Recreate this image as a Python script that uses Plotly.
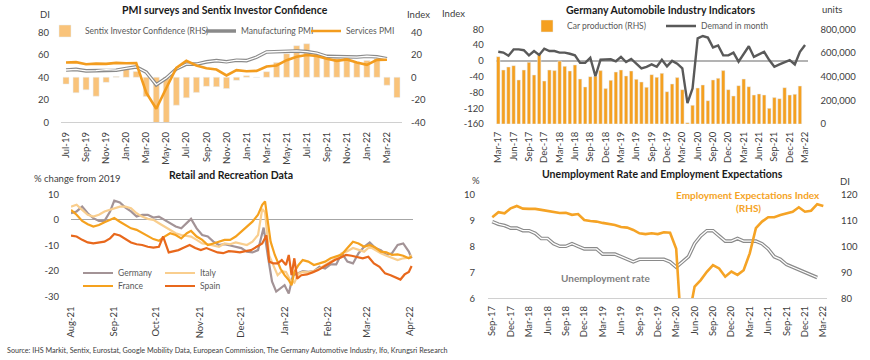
import pandas as pd
import plotly.graph_objects as go

W, H = 870, 360
FONT = "Lato"
TXT = "#404040"

# ---------------- Panel 1: PMI & Sentix ----------------
pmi_months = pd.date_range("2019-07-01", "2022-04-01", freq="MS").strftime("%b-%y").tolist()
sentix = [-6.0, -13.7, -11.1, -16.8, -4.5, 0.7, 7.6, 5.2, -17.1, -42.9, -41.8, -24.8, -18.2, -13.4,
          -8.0, -8.3, -10.0, -2.7, 1.3, -0.2, 5.0, 13.1, 21.0, 28.1, 29.8, 22.2, 19.6, 16.9, 18.3,
          13.5, 14.9, 16.6, -7.0, -18.0]
manufacturing_pmi = [46.5, 47.0, 45.7, 45.9, 46.9, 46.3, 47.9, 49.2, 44.5, 33.4, 39.4, 47.4, 51.8,
                     51.7, 53.7, 54.8, 53.8, 55.2, 54.8, 57.9, 62.5, 62.9, 63.1, 63.4, 62.8, 61.4,
                     58.6, 58.3, 58.4, 58.0, 58.7, 58.2, 56.5]
services_pmi = [53.2, 53.5, 51.6, 52.2, 51.9, 52.8, 52.5, 52.6, 26.4, 12.0, 30.5, 48.3, 54.7, 50.5,
                48.0, 46.9, 41.7, 46.4, 45.4, 45.7, 49.6, 50.5, 55.2, 58.3, 59.8, 59.0, 56.4, 54.6,
                55.9, 53.1, 51.1, 55.5, 55.6]

# ---------------- Panel 2: German autos ----------------
auto_months = pd.date_range("2017-03-01", "2022-03-01", freq="MS").strftime("%b-%y").tolist()
car_production = [569, 456, 482, 493, 372, 456, 521, 414, 589, 363, 456, 451, 532, 487, 448, 499,
                  380, 313, 400, 403, 451, 299, 369, 439, 456, 406, 448, 377, 355, 310, 417, 394,
                  428, 273, 338, 392, 290, 11, 158, 304, 330, 197, 372, 386, 451, 290, 237, 324,
                  380, 315, 245, 254, 245, 132, 223, 214, 307, 245, 251, 321]
car_production_units = [v * 1000 for v in car_production]
demand_in_month = [23, 21, 13, 29, 29, 27, 14, 25, 15, 31, 25, 25, 21, 21, 18, 14, -5, -5, 8, -39,
                   3, 3, 4, -1, 10, -3, 5, -7, -19, -15, -9, -15, 3, -14, 0, -7, -19, -107, -70,
                   57, 63, 59, 34, 39, 14, 14, 21, -2, 16, 37, 10, 17, 23, 2, -15, -9, -4, 2, -9,
                   23, 40]

# ---------------- Panel 3: Retail & recreation (days since 1 Aug 2021) ----------------
germany_days = [0, 4, 8, 12, 16, 20, 24, 28, 31, 35, 39, 43, 47, 51, 55, 59, 63, 67, 71, 75, 79, 83,
                86, 90, 94, 98, 102, 106, 110, 114, 118, 122, 126, 130, 134, 138, 141, 144, 147,
                150, 153, 156, 159, 162, 166, 170, 174, 178, 182, 186, 190, 194, 198, 202, 206,
                210, 214, 218, 222, 226, 230, 234, 238, 242, 244]
germany_vals = [2.6, 3.3, 5.2, 2.6, 0.7, -0.4, -0.4, 3.3, 7.5, 6.8, 4.8, 3.3, 1.3, 2, 2, 0.9, 1.3,
                0, -1.3, -2.6, -3.3, -1.3, 0.4, -3.3, -5.9, -6.5, -8.5, -9.8, -9.5, -10, -10.5,
                -11, -12.4, -12.7, -11.8, -3, -14, -24, -28, -26.8, -25.5, -28.8, -21.6, -21, -20,
                -20.3, -20, -18.3, -19, -17.4, -17.4, -13, -16.3, -17, -13, -10.5, -8.8, -11,
                -11.8, -13.7, -13, -9.8, -9.2, -12.4, -15]
italy_days = [0, 4, 8, 12, 16, 20, 24, 28, 31, 35, 39, 43, 47, 51, 55, 59, 63, 67, 71, 75, 79, 83,
              86, 90, 94, 98, 102, 106, 110, 114, 118, 122, 126, 130, 134, 137, 139, 142, 145, 148,
              151, 154, 157, 160, 163, 166, 170, 174, 178, 182, 186, 190, 194, 198, 202, 206, 210,
              214, 218, 222, 226, 230, 234, 238, 242, 244]
italy_vals = [5.2, 5.9, 3.9, 2, 1.3, 2, 3.3, 3.9, 4.3, 5.2, 5.2, 4.6, 2.6, 1.3, 0.4, 0, -1.3, -2.6,
              -3.9, -5.2, -5.9, -6.1, -6.5, -7.8, -9.2, -9.5, -10, -10.5, -9.2, -9.5, -8.8, -9.2,
              -9.8, -8.5, -5.9, 4.3, 3, -14, -18, -21.6, -20, -20.3, -23.5, -24.5, -21, -20.3,
              -20.5, -20, -19, -17.6, -16.3, -15, -13, -12.2, -11, -11.8, -12.4, -10.5, -11.8,
              -13, -14, -15, -15.7, -15, -14.8, -13.7]
france_days = [0, 4, 8, 12, 16, 20, 24, 28, 31, 35, 39, 43, 47, 51, 55, 59, 63, 67, 71, 75, 79, 83,
               86, 90, 94, 98, 102, 106, 110, 114, 118, 122, 126, 130, 134, 137, 139, 141, 143,
               146, 150, 153, 156, 158, 160, 163, 166, 170, 174, 178, 182, 186, 190, 194, 198,
               202, 206, 210, 214, 218, 222, 226, 230, 234, 238, 242, 244]
france_vals = [3.9, 2, -0.4, -1.7, -2.6, -2, -0.9, 0, 0.7, -0.7, -2, -3.3, -3.9, -5.2, -6.5, -7.5,
               -8.2, -6.5, -5.2, -5.9, -7.2, -5.2, -4.3, -6.5, -7.8, -9.8, -9.2, -8.5, -7.8, -7.8,
               -6.5, -4.6, -2.6, -0.7, 2, 5.9, 7.2, -1.3, -8.5, -13.7, -19, -21.6, -23.5, -25.5,
               -20.3, -17.6, -15.7, -16.3, -17.6, -17, -16.3, -15, -14.4, -13.5, -11, -8.5, -9.2,
               -10.5, -9.8, -10.8, -12.4, -12.7, -13.7, -13.5, -14, -15, -14.4]
spain_days = [0, 4, 8, 12, 16, 20, 24, 28, 31, 35, 39, 43, 47, 51, 55, 59, 63, 66, 70, 73, 77, 81,
              85, 89, 93, 97, 101, 105, 109, 113, 117, 121, 125, 129, 133, 137, 140, 142, 145, 148,
              151, 154, 156, 158, 160, 162, 165, 169, 173, 177, 181, 185, 189, 193, 197, 201, 205,
              209, 213, 217, 221, 225, 229, 233, 236, 239, 242, 244]
spain_vals = [-6.1, -6.5, -7.8, -8.8, -9.2, -8.8, -8.5, -7.2, -5.5, -6.1, -7.5, -8.8, -9.5, -9.8,
              -10.5, -10.8, -10.5, -6.5, -12.7, -12.2, -11.8, -10.8, -9.8, -11, -11.8, -11, -11.8,
              -12.7, -13, -12.2, -12.4, -12.7, -12.2, -11.8, -10.5, -9.2, -6, -16.3, -17, -17,
              -15.7, -17.6, -13.7, -21.6, -15, -22.9, -21.6, -21.3, -20.5, -19.6, -18.3, -17,
              -15.7, -14.8, -13.7, -14, -14.4, -15, -14.4, -17, -18.3, -20.9, -21.6, -22.6, -23.3,
              -21.3, -20.3, -18]
retail_start = pd.Timestamp("2021-08-01")
retail_ticks = pd.date_range("2021-08-01", "2022-04-01", freq="MS")
retail_ticktext = retail_ticks.strftime("%b-%y").tolist()

# ---------------- Panel 4: Unemployment & EEI ----------------
emp_months = pd.date_range("2017-09-01", "2022-03-01", freq="MS").strftime("%b-%y").tolist()
unemployment = [8.95, 8.85, 8.8, 8.7, 8.7, 8.6, 8.6, 8.5, 8.3, 8.3, 8.1, 8.0, 8.0, 8.1, 8.0, 7.9,
                7.9, 7.9, 7.7, 7.7, 7.7, 7.6, 7.5, 7.4, 7.5, 7.5, 7.5, 7.5, 7.5, 7.4, 7.2, 7.4,
                7.6, 8.1, 8.4, 8.6, 8.6, 8.4, 8.2, 8.2, 8.3, 8.2, 8.2, 8.2, 8.1, 7.9, 7.6, 7.5,
                7.3, 7.2, 7.1, 7.0, 6.9, 6.8]
eei = [111.2, 113.1, 112.7, 114.6, 115.5, 114.5, 114.4, 114.4, 114.0, 113.6, 113.1, 112.8, 112.9,
       112.1, 112.4, 110.1, 109.7, 109.5, 109.0, 108.5, 108.2, 107.4, 107.2, 106.3, 105.0, 104.7,
       105.0, 104.7, 105.4, 105.2, 99.0, 62.0, 72.0, 84.5, 87.0, 90.2, 92.8, 91.5, 88.3, 90.3,
       89.0, 90.8, 97.3, 107.0, 109.5, 111.2, 111.2, 112.0, 112.7, 113.3, 115.0, 113.3, 113.7,
       116.2, 115.5]

# colours
C_SENTIX = "#F9C37A"
C_SERV = "#F39C1E"
C_GRAY = "#8A8A8A"
C_CAR = "#F5A020"
C_DEMAND = "#595959"
C_GER = "#A39396"
C_ITA = "#F9CE8E"
C_FRA = "#F5A11E"
C_ESP = "#E8681C"
C_EEI = "#F5A325"


def px_x(p):
    return p / W


def px_y(p):
    return 1 - p / H


fig = go.Figure()

fig.add_trace(go.Bar(x=pmi_months, y=sentix, marker_color=C_SENTIX, width=0.6,
                     name="Sentix Investor Confidence (RHS)", xaxis="x", yaxis="y", legend="legend"))
fig.add_trace(go.Scatter(x=pmi_months[:len(manufacturing_pmi)], y=manufacturing_pmi, mode="lines",
                         line=dict(color=C_GRAY, width=3.6), name="Manufacturing PMI",
                         xaxis="x", yaxis="y2", legend="legend2"))
fig.add_trace(go.Scatter(x=pmi_months[:len(manufacturing_pmi)], y=manufacturing_pmi, mode="lines",
                         line=dict(color="white", width=1.3), showlegend=False, hoverinfo="skip",
                         xaxis="x", yaxis="y2"))
fig.add_trace(go.Scatter(x=pmi_months[:len(services_pmi)], y=services_pmi, mode="lines",
                         line=dict(color=C_SERV, width=2.6), name="Services PMI",
                         xaxis="x", yaxis="y2", legend="legend3"))

fig.add_trace(go.Bar(x=auto_months[:len(car_production_units)], y=car_production_units,
                     marker_color=C_CAR, width=0.68, name="Car production (RHS)",
                     xaxis="x2", yaxis="y3", legend="legend4"))
fig.add_trace(go.Scatter(x=auto_months, y=demand_in_month, mode="lines",
                         line=dict(color=C_DEMAND, width=2.4), name="Demand in month",
                         xaxis="x2", yaxis="y4", legend="legend5"))

for name, days, vals, col, lg in [("Germany", germany_days, germany_vals, C_GER, "legend6"),
                                  ("Italy", italy_days, italy_vals, C_ITA, "legend7"),
                                  ("France", france_days, france_vals, C_FRA, "legend8"),
                                  ("Spain", spain_days, spain_vals, C_ESP, "legend9")]:
    dates = retail_start + pd.to_timedelta(days, unit="D")
    fig.add_trace(go.Scatter(x=dates, y=vals, mode="lines", line=dict(color=col, width=2.2),
                             name=name, xaxis="x3", yaxis="y5", legend=lg))

fig.add_trace(go.Scatter(x=emp_months[:len(unemployment)], y=unemployment, mode="lines",
                         line=dict(color=C_GRAY, width=3.6), showlegend=False,
                         xaxis="x4", yaxis="y6"))
fig.add_trace(go.Scatter(x=emp_months[:len(unemployment)], y=unemployment, mode="lines",
                         line=dict(color="white", width=1.3), showlegend=False, hoverinfo="skip",
                         xaxis="x4", yaxis="y6"))
fig.add_trace(go.Scatter(x=emp_months, y=eei, mode="lines", line=dict(color=C_EEI, width=2.6),
                         showlegend=False, xaxis="x4", yaxis="y7"))

tickfont = dict(family=FONT, size=9.5, color=TXT)
hidden_tick = dict(ticks="outside", tickcolor="rgba(0,0,0,0)", showgrid=False, zeroline=False)


def num_axis(vals, fmt=lambda v: str(v), **kw):
    d = dict(tickvals=vals, ticktext=[fmt(v) for v in vals], tickfont=tickfont,
             automargin=False, **hidden_tick)
    d.update(kw)
    return d


def cat_axis(**kw):
    d = dict(tickangle=-90, tickfont=tickfont, ticks="outside", tickcolor="rgba(0,0,0,0)",
             showgrid=False, zeroline=False, automargin=False)
    d.update(kw)
    return d


layout = dict(
    width=W, height=H, margin=dict(l=0, r=0, t=0, b=0, autoexpand=False),
    paper_bgcolor="white", plot_bgcolor="rgba(0,0,0,0)",
    font=dict(family=FONT, color=TXT), bargap=0.3,
    xaxis=cat_axis(type="category", domain=[px_x(61), px_x(402)], anchor="y",
                   range=[-0.5, len(pmi_months) - 0.5], tickvals=pmi_months[::2],
                   ticktext=pmi_months[::2], ticklen=5,
                   showline=True, linecolor="#D0D0D0", linewidth=1),
    yaxis=num_axis([-40, -20, 0, 20, 40], domain=[px_y(122.3), px_y(32.3)], range=[-40, 40],
                   side="right", anchor="x", ticklen=6),
    yaxis2=num_axis([0, 20, 40, 60, 80], range=[0, 80], overlaying="y", side="left",
                    anchor="x", ticklen=9),
    xaxis2=cat_axis(type="category", domain=[px_x(495.7), px_x(807.6)], anchor="y3",
                    range=[-0.5, len(auto_months) - 0.5], tickvals=auto_months[::3],
                    ticktext=auto_months[::3], ticklen=3, showline=False),
    yaxis3=num_axis([0, 200000, 400000, 600000, 800000], fmt=lambda v: f"{v:,}",
                    domain=[px_y(124), px_y(29.3)], range=[0, 800000], side="right",
                    anchor="x2", ticklen=10),
    yaxis4=num_axis([-160, -120, -80, -40, 0, 40, 80], range=[-160, 80], overlaying="y3",
                    side="left", anchor="x2", ticklen=9),
    xaxis3=cat_axis(type="date", domain=[px_x(71), px_x(413)], anchor="y5",
                    range=["2021-08-01", "2022-04-03"], tickvals=list(retail_ticks),
                    ticktext=retail_ticktext, ticklen=5, showline=False),
    yaxis5=num_axis([-30, -20, -10, 0, 10], domain=[px_y(296.7), px_y(194.3)], range=[-30, 10],
                    anchor="x3", ticklen=9),
    xaxis4=cat_axis(type="category", domain=[px_x(488), px_x(827)], anchor="y6",
                    range=[-0.7, len(emp_months) - 0.4], tickvals=emp_months[::3],
                    ticktext=emp_months[::3], ticklen=3,
                    showline=True, linecolor="#D0D0D0", linewidth=1),
    yaxis6=num_axis([6, 7, 8, 9, 10], domain=[px_y(298.3), px_y(194.3)], range=[6, 10],
                    anchor="x4", ticklen=10),
    yaxis7=num_axis([80, 90, 100, 110, 120], range=[80, 120], overlaying="y6", side="right",
                    anchor="x4", ticklen=11),
)
layout["yaxis4"].update(zeroline=True, zerolinecolor="#B3B3B3", zerolinewidth=1.5)
layout["yaxis5"].update(zeroline=True, zerolinecolor="#A6A6A6", zerolinewidth=1)

legfont = dict(family=FONT, size=8.5, color="#595959")


def leg(text_x, yp):
    # plotly places legend text 40 px right of the legend's left edge
    return dict(x=px_x(text_x - 40), y=px_y(yp), xanchor="left", yanchor="middle",
                orientation="h", bgcolor="rgba(0,0,0,0)", font=legfont, itemwidth=30)


layout["legend"] = leg(85, 31)
layout["legend2"] = leg(241, 31)
layout["legend3"] = leg(346, 31)
layout["legend4"] = leg(567, 26)
layout["legend5"] = leg(701, 26)
layout["legend6"] = leg(118, 273)
layout["legend7"] = leg(200, 273)
layout["legend8"] = leg(118, 286)
layout["legend9"] = leg(200, 286)

fig.update_layout(**layout)

title_font = dict(family=FONT, size=10.5, color="#1a1a1a")
small = dict(family=FONT, size=9.5, color=TXT)
annots = [
    ("<b>PMI surveys and Sentix Investor Confidence</b>", 225, 10, "center", title_font),
    ("<b>Germany Automobile Industry Indicators</b>", 660, 10, "center", title_font),
    ("<b>Retail and Recreation Data</b>", 231, 175, "center", title_font),
    ("<b>Unemployment Rate and Employment Expectations</b>", 662, 174, "center", title_font),
    ("DI", 45, 15, "center", small),
    ("Index", 418, 15, "center", small),
    ("Index", 453, 14, "center", small),
    ("units", 832, 9, "center", small),
    ("% change from 2019", 77, 178, "center", small),
    ("%", 476, 180, "center", small),
    ("DI", 845, 181, "center", small),
    ("<b>Employment Expectations Index</b>", 748, 195, "center",
     dict(family=FONT, size=10, color=C_EEI)),
    ("<b>(RHS)</b>", 748, 208, "center", dict(family=FONT, size=10, color=C_EEI)),
    ("<b>Unemployment rate</b>", 605, 278, "center", dict(family=FONT, size=10, color="#7F7F7F")),
    ("Source: IHS Markit, Sentix, Eurostat, Google Mobility Data, European Commission, "
     "The Germany Automotive Industry, Ifo, Krungsri Research", 5, 350, "left",
     dict(family=FONT, size=7.2, color=TXT)),
]
for text, xp, yp, anchor, f in annots:
    fig.add_annotation(text=text, x=px_x(xp), y=px_y(yp), xref="paper", yref="paper",
                       xanchor=anchor, yanchor="middle", showarrow=False, font=f)

# remove the browser's default 8px page margin so the 870x360 figure fills the window exactly
fig.write_html("out.html",
               config={"displayModeBar": False, "staticPlot": True},
               post_script="document.body.style.margin='0';"
                           "document.documentElement.style.overflow='hidden';")
